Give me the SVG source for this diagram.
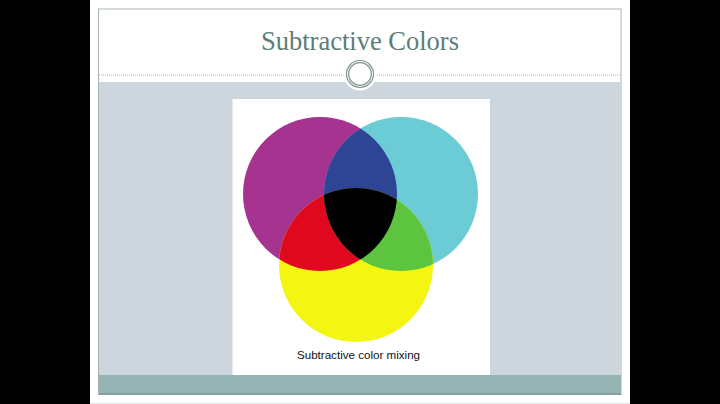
<svg xmlns="http://www.w3.org/2000/svg" width="720" height="404" viewBox="0 0 720 404">
  <style>
    .title { font-family: "Liberation Serif", "DejaVu Serif", serif; font-size: 26.5px; fill: #5b7d7a; }
    .caption { font-family: "Liberation Sans", Arial, sans-serif; font-size: 11.6px; fill: #111; }
    .ring { fill: none; stroke: #7f9391; stroke-width: 1.2; }
  </style>
  <defs>
    <clipPath id="cM"><circle cx="320" cy="194" r="77"/></clipPath>
    <clipPath id="cC"><circle cx="401" cy="194" r="77"/></clipPath>
  </defs>
  <rect x="0" y="0" width="720" height="404" fill="#000"/>
  <rect x="90" y="0" width="540" height="404" fill="#fff"/>
  <line x1="90" y1="403.5" x2="630" y2="403.5" stroke="#e4e7e7" stroke-width="1"/>
  <g id="slide">
    <rect x="98.5" y="9" width="522.5" height="385.5" fill="#fff" stroke="#aab3b3" stroke-width="1"/>
    <rect x="99" y="82" width="522" height="293" fill="#cdd6dc"/>
    <rect x="99" y="375" width="522" height="19" fill="#95b4b3"/>
    <line x1="99" y1="394" x2="621" y2="394" stroke="#6f8c8b" stroke-width="1"/>
    <line x1="99" y1="75" x2="621" y2="75" stroke="#a9b1b1" stroke-width="1" stroke-dasharray="1 1"/>
  </g>
  <g id="title">
    <text class="title" x="360" y="50" text-anchor="middle">Subtractive Colors</text>
  </g>
  <g id="ornament">
    <circle cx="360" cy="74" r="16.5" fill="#fff"/>
    <circle class="ring" cx="360" cy="74" r="13.5"/>
    <circle class="ring" cx="360" cy="74" r="11.3"/>
  </g>
  <g id="panel">
    <rect x="232.5" y="99" width="257.5" height="276" fill="#fff"/>
  </g>
  <g id="circles">
    <circle id="magenta" cx="320" cy="194" r="77" fill="#a6338f"/>
    <circle id="cyan" cx="401" cy="194" r="77" fill="#6bccd5"/>
    <circle id="yellow" cx="356" cy="265" r="77" fill="#f4f510"/>
    <circle id="blue" cx="401" cy="194" r="77" fill="#2e4596" clip-path="url(#cM)"/>
    <circle id="red" cx="356" cy="265" r="77" fill="#e0081f" clip-path="url(#cM)"/>
    <circle id="green" cx="356" cy="265" r="77" fill="#5cc43f" clip-path="url(#cC)"/>
    <g clip-path="url(#cM)">
      <circle id="black" cx="356" cy="265" r="77" fill="#000" clip-path="url(#cC)"/>
    </g>
  </g>
  <g id="caption">
    <text class="caption" x="358.5" y="358.5" text-anchor="middle">Subtractive color mixing</text>
  </g>
</svg>
